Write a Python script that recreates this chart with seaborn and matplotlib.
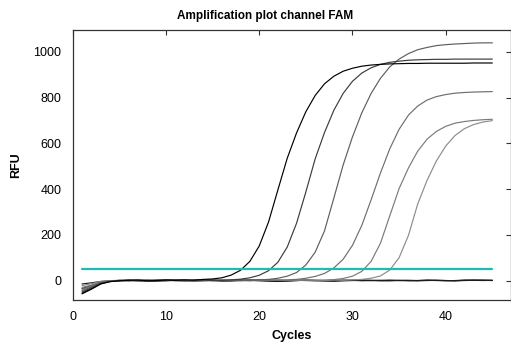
import pandas as pd
import seaborn as sns
import matplotlib
matplotlib.use('Agg')
import matplotlib.pyplot as plt

# Amplification plot, FAM channel - RFU per cycle for each well

cycles = list(range(1, 46))

well_a = [-58, -38, -15, -5, -1, 1, 2, -1, 0, 2, 1, 3, 2, 5, 7, 12, 24, 45, 84, 151,
          256, 396, 534, 645, 738, 809, 860, 893, 915, 928, 937, 942, 945, 947, 948,
          949, 949, 950, 950, 950, 950, 950, 951, 951, 951]
well_b = [-50, -32, -12, -4, 0, 2, 0, -2, 1, 3, 0, -1, 1, 2, 0, 1, 3, 6, 12, 23,
          43, 80, 146, 250, 387, 532, 647, 744, 818, 871, 907, 930, 945, 954, 959,
          963, 965, 966, 967, 967, 968, 968, 968, 968, 968]
well_c = [-44, -28, -10, -3, 1, 0, -2, 1, 2, 0, 3, 1, -1, 0, 2, 1, 0, 1, 2, 3,
          5, 10, 19, 35, 68, 124, 217, 360, 505, 628, 733, 818, 884, 934, 968,
          992, 1009, 1019, 1027, 1031, 1034, 1036, 1038, 1039, 1039]
well_d = [-38, -24, -8, -2, 0, -1, 1, 2, 0, -2, 1, 2, 0, 1, -1, 0, 2, 1, 0, 1,
          2, 2, 3, 5, 10, 18, 31, 55, 93, 154, 241, 353, 470, 576, 661,
          723, 763, 789, 804, 813, 819, 822, 824, 825, 826]
well_e = [-30, -20, -6, -1, 1, 0, 2, 1, -1, 0, 2, 0, -2, 0, 1, 2, 0, -1, 1, 0,
          2, 1, 0, 1, 2, 1, 2, 4, 9, 19, 40, 84, 163, 283, 402,
          492, 566, 618, 652, 674, 688, 695, 700, 703, 705]
well_f = [-22, -14, -4, 0, 0, 1, -1, 0, 2, 1, -1, 0, 1, -2, 0, 1, 2, 0, -1, 1,
          0, 2, 1, 0, 2, 1, 0, 2, 1, 3, 5, 10, 20, 46, 100,
          197, 335, 438, 523, 588, 634, 664, 682, 693, 699]
neg_1 = [-55, -35, -14, -4, -1, 1, 0, -2, -3, 0, 2, 1, -2, 0, 1, -1, 0, 2, 1, -1,
         -3, -4, -2, 0, 1, 0, -2, -3, -1, 0, 1, 0, -1, 0, 1, 0, -1, 0, 1, 0,
         -1, 1, 2, 1, 0]
neg_2 = [-35, -22, -9, -2, 0, -1, 2, 1, -1, 1, 3, 0, 1, 2, 0, -2, -1, 0, 2, 1,
         0, -2, -1, 1, 0, -1, 0, 1, 2, 1, -1, 0, 1, 2, 0, -1, 0, 1, 0, -1,
         0, 2, 1, 0, 1]
neg_3 = [-15, -10, -4, -1, 0, 1, 0, -1, 1, 2, 0, -1, 0, 1, 2, 0, -1, 1, 0, 2,
         1, 0, -1, 0, 2, 1, 0, -1, 0, 1, 2, 1, 0, -1, 0, 1, 0, 2, 1, 0,
         -1, 0, 1, 2, 1]

wells = {'N1': neg_1, 'N2': neg_2, 'N3': neg_3,
         'F': well_f, 'E': well_e, 'D': well_d, 'C': well_c, 'B': well_b, 'A': well_a}
colors = {'N1': '#111111', 'N2': '#222222', 'N3': '#1a1a1a',
          'F': '#8c8c8c', 'E': '#7a7a7a', 'D': '#6e6e6e', 'C': '#5e5e5e',
          'B': '#3c3c3c', 'A': '#000000'}

threshold = 50

rows = []
for name, vals in wells.items():
    for c, v in zip(cycles, vals):
        rows.append({'Cycle': c, 'RFU': v, 'Well': name})
df = pd.DataFrame(rows)

sns.set_style('white')
plt.rcParams['font.family'] = ['Liberation Sans', 'DejaVu Sans']
plt.rcParams['text.color'] = 'black'
plt.rcParams['axes.labelcolor'] = 'black'
plt.rcParams['xtick.color'] = 'black'
plt.rcParams['ytick.color'] = 'black'

fig = plt.figure(figsize=(5.11, 3.43), dpi=100)
ax = fig.add_axes([0.1423, 0.1254, 0.8577, 0.787])

sns.lineplot(data=df, x='Cycle', y='RFU', hue='Well', palette=colors,
             estimator=None, legend=False, linewidth=0.85, ax=ax)
ax.plot([cycles[0], cycles[-1]], [threshold, threshold], color='#1cbcb0', lw=1.6)

ax.set_xlim(0, 47)
ax.set_ylim(-85, 1095)
ax.set_xticks([0, 10, 20, 30, 40])
ax.set_yticks([0, 200, 400, 600, 800, 1000])

for sp in ax.spines.values():
    sp.set_color('#333333')
    sp.set_linewidth(0.9)

ax.tick_params(axis='x', direction='in', top=True, length=3.6, width=0.8,
               color='#333333', labelsize=9, pad=8)
ax.tick_params(axis='y', direction='inout', right=True, length=6.5, width=0.8,
               color='#333333', labelsize=9, pad=5)

ax.set_xlabel('Cycles', fontsize=9, fontweight='bold', labelpad=5)
ax.set_ylabel('RFU', fontsize=9, fontweight='bold', labelpad=8)
fig.text(265 / 511, 1 - 16 / 343, 'Amplification plot channel FAM',
         ha='center', va='center', fontsize=8.5, fontweight='bold')

fig.savefig('out.png', dpi=100)
